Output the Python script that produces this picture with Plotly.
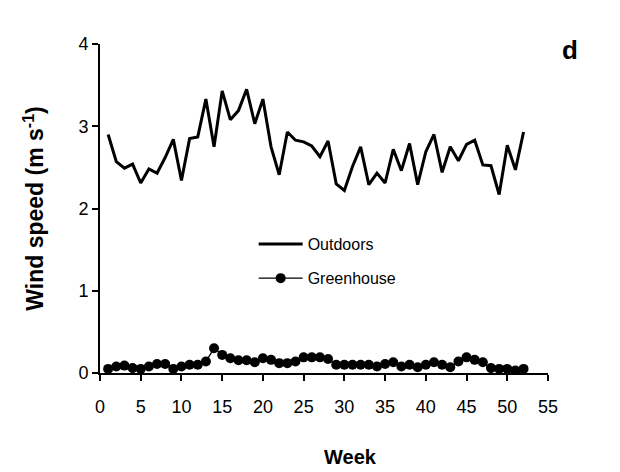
import plotly.graph_objects as go

weeks = list(range(1, 53))
outdoors = [2.90, 2.57, 2.49, 2.54, 2.31, 2.48, 2.43, 2.62, 2.84, 2.34,
            2.85, 2.87, 3.33, 2.75, 3.43, 3.08, 3.19, 3.45, 3.03, 3.33,
            2.75, 2.41, 2.93, 2.83, 2.81, 2.76, 2.63, 2.82, 2.30, 2.22,
            2.51, 2.75, 2.29, 2.43, 2.31, 2.72, 2.46, 2.79, 2.29, 2.69,
            2.90, 2.44, 2.75, 2.58, 2.78, 2.83, 2.53, 2.52, 2.17, 2.77,
            2.47, 2.93]
greenhouse = [0.05, 0.08, 0.09, 0.06, 0.05, 0.08, 0.11, 0.11, 0.05, 0.08,
              0.10, 0.10, 0.14, 0.30, 0.22, 0.18, 0.155, 0.155, 0.13, 0.18,
              0.16, 0.12, 0.12, 0.14, 0.19, 0.19, 0.19, 0.17, 0.10, 0.10,
              0.10, 0.10, 0.10, 0.08, 0.11, 0.13, 0.08, 0.10, 0.07, 0.10,
              0.13, 0.10, 0.07, 0.14, 0.19, 0.16, 0.13, 0.06, 0.05, 0.05,
              0.03, 0.05]
x_ticks = list(range(0, 60, 5))
y_ticks = [0, 1, 2, 3, 4]

FONT = "Liberation Sans, Arial, sans-serif"

fig = go.Figure()
fig.add_trace(go.Scatter(x=weeks, y=outdoors, mode="lines", name="Outdoors",
                         line=dict(color="black", width=3), legend="legend"))
fig.add_trace(go.Scatter(x=weeks, y=greenhouse, mode="lines+markers", name="Greenhouse",
                         line=dict(color="black", width=1.3),
                         marker=dict(color="black", size=10), legend="legend2"))

fig.add_annotation(x=1.05, y=0.982, xref="paper", yref="paper", text="<b>d</b>",
                   xanchor="center", yanchor="middle",
                   showarrow=False, font=dict(family=FONT, size=26, color="black"))
fig.add_annotation(x=0.56, y=-0.256, xref="paper", yref="paper", text="<b>Week</b>",
                   xanchor="center", yanchor="middle",
                   showarrow=False, font=dict(family=FONT, size=20, color="black"))

leg_common = dict(xanchor="left", yanchor="middle", bgcolor="rgba(0,0,0,0)",
                  itemwidth=44,
                  font=dict(family=FONT, size=16, color="black"))

fig.update_layout(
    width=620, height=472,
    margin=dict(l=100, r=72, t=44, b=99),
    paper_bgcolor="white", plot_bgcolor="white",
    font=dict(family=FONT, color="black"),
    showlegend=True,
    legend=dict(x=0.343, y=0.392, **leg_common),
    legend2=dict(x=0.343, y=0.288, **leg_common),
    xaxis=dict(range=[0, 55], tickvals=x_ticks, ticks="outside", ticklen=6,
               tickwidth=1.5, tickcolor="black", showline=True, linecolor="black",
               linewidth=2, showgrid=False, zeroline=False, ticklabelstandoff=10,
               tickfont=dict(family=FONT, size=18, color="black")),
    yaxis=dict(range=[0, 4], tickvals=y_ticks, ticks="outside", ticklen=6,
               tickwidth=1.5, tickcolor="black", showline=True, linecolor="black",
               linewidth=2, showgrid=False, zeroline=False, ticklabelstandoff=0,
               tickfont=dict(family=FONT, size=18, color="black"),
               title=dict(text="<b>Wind speed (m s<sup>-1</sup>)</b>",
                          font=dict(family=FONT, size=23), standoff=28)),
)

fig.write_html("out.html")
